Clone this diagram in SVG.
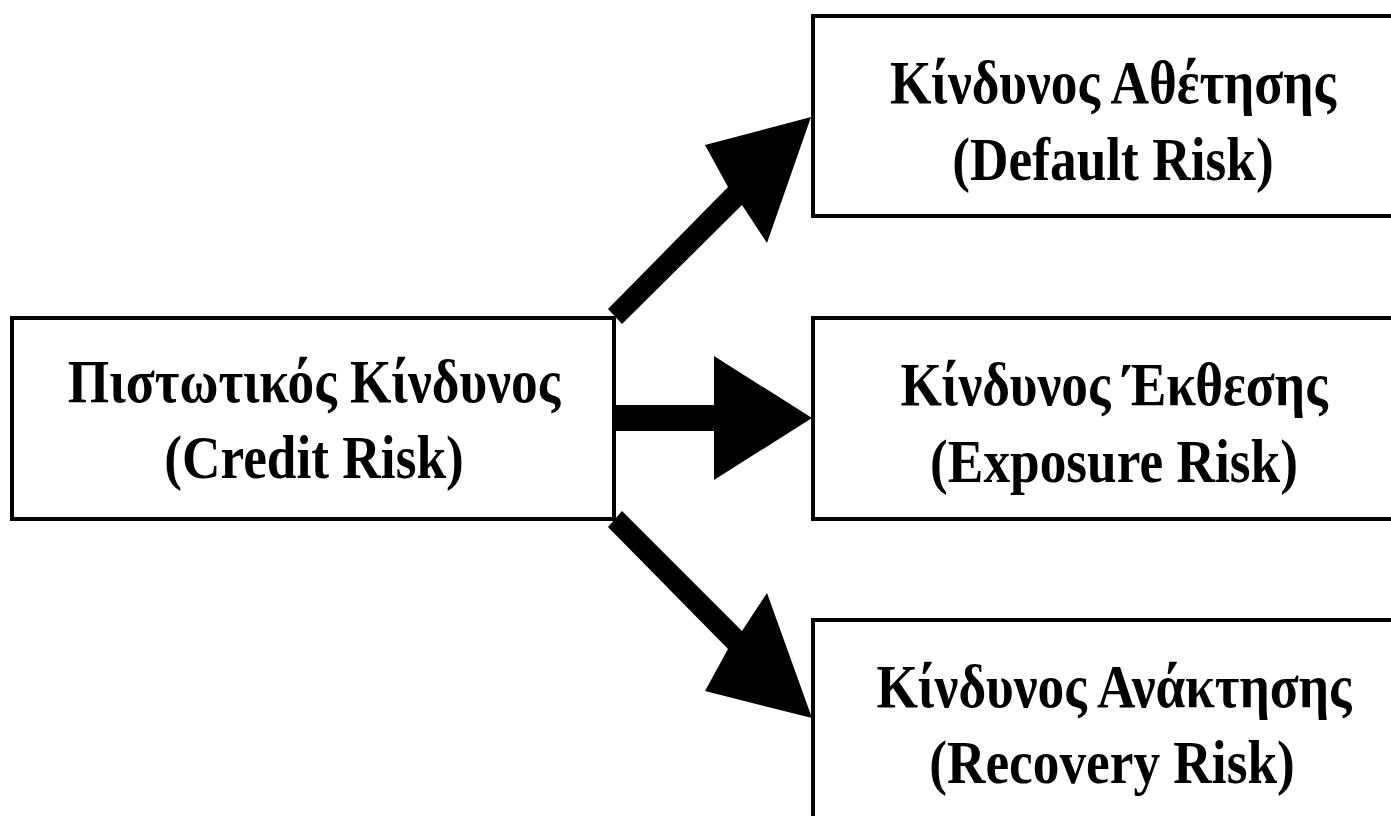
<svg xmlns="http://www.w3.org/2000/svg" width="1391" height="816" viewBox="0 0 1391 816">
  <style>
    .box { fill: #ffffff; stroke: #000000; stroke-width: 4; }
    .lbl { font-family: "Liberation Serif", "Times New Roman", serif; font-weight: bold; font-size: 62px; fill: #000000; text-anchor: middle; }
    .arrow { fill: #000000; stroke: none; }
  </style>
  <rect width="1391" height="816" fill="#ffffff"/>
  <g id="connectors">
    <polygon class="arrow" points="608,309 622,324 742,205 767,243 811,117 705,145 728,187"/>
    <polygon class="arrow" points="614,405 714,405 714,356 812,418 714,480 714,431 614,431"/>
    <polygon class="arrow" points="608,527 622,511 742,631 767,593 812,718 705,691 728,649"/>
  </g>
  <g id="node-credit">
    <rect class="box" x="12" y="318" width="602" height="201"/>
    <text class="lbl" transform="translate(314,402) scale(0.86,1)">Πιστωτικός Κίνδυνος</text>
    <text class="lbl" transform="translate(314,478) scale(0.86,1)">(Credit Risk)</text>
  </g>
  <g id="node-default">
    <rect class="box" x="813" y="16" width="602" height="200"/>
    <text class="lbl" transform="translate(1113,103) scale(0.86,1)">Κίνδυνος Αθέτησης</text>
    <text class="lbl" transform="translate(1113,180) scale(0.86,1)">(Default Risk)</text>
  </g>
  <g id="node-exposure">
    <rect class="box" x="813" y="318" width="602" height="201"/>
    <text class="lbl" transform="translate(1114,405) scale(0.86,1)">Κίνδυνος Έκθεσης</text>
    <text class="lbl" transform="translate(1114,482) scale(0.86,1)">(Exposure Risk)</text>
  </g>
  <g id="node-recovery">
    <rect class="box" x="813" y="620" width="602" height="220"/>
    <text class="lbl" transform="translate(1114,707) scale(0.86,1)">Κίνδυνος Ανάκτησης</text>
    <text class="lbl" transform="translate(1112,783) scale(0.86,1)">(Recovery Risk)</text>
  </g>
</svg>
